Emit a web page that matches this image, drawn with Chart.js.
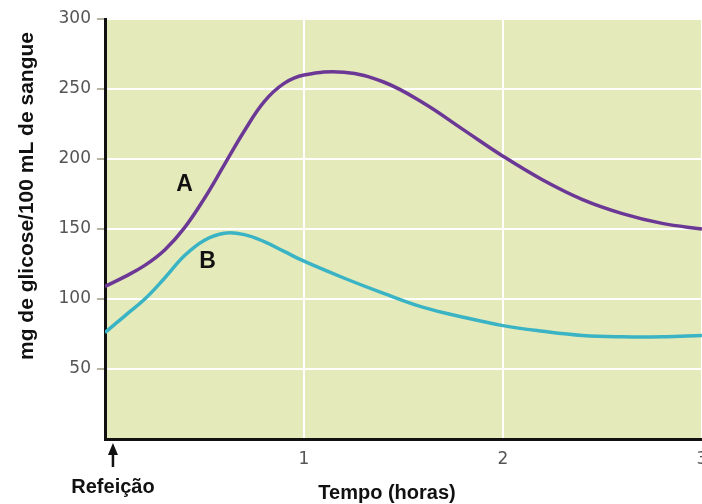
<!DOCTYPE html>
<html>
<head>
<meta charset="utf-8">
<script src="https://cdn.jsdelivr.net/npm/chart.js@4.4.1/dist/chart.umd.min.js"></script>
<style>
  html, body { margin: 0; padding: 0; background: #ffffff; overflow: hidden; }
  #wrap { width: 702px; height: 504px; position: relative; }
</style>
</head>
<body>
<div id="wrap"><canvas id="c" width="702" height="504"></canvas></div>
<script>
// Time after the meal (hours)
const hours = [0, 0.1, 0.2, 0.3, 0.4, 0.5, 0.6, 0.7, 0.8, 0.9, 1.0, 1.2, 1.4, 1.6, 1.8, 2.0, 2.2, 2.4, 2.6, 2.8, 3.0];
// Curve A (mg glucose / 100 mL blood)
const curveA = [109, 116, 124, 135, 151, 172, 196, 220, 241, 254, 260, 262, 255, 240, 221, 202, 185, 171, 161, 154, 150];
// Curve B
const curveB = [76, 88, 100, 115, 131, 142, 147, 146, 141, 134, 127, 115, 104, 94, 87, 81, 77, 74, 73, 73, 74];
const xTickLabels = ['1', '2', '3'];
const yTitle = 'mg de glicose/100 mL de sangue';
const xTitle = 'Tempo (horas)';
const mealLabel = 'Refeição';
const seriesNames = ['A', 'B'];

const toPts = (ys) => hours.map((h, i) => ({ x: h, y: ys[i] }));

const decor = {
  id: 'decor',
  beforeDraw(chart) {
    const { ctx, chartArea: a } = chart;
    ctx.save();
    ctx.fillStyle = 'rgb(229,234,187)';
    ctx.fillRect(a.left, a.top, 702 - a.left, a.bottom - a.top);
    ctx.restore();
  },
  afterDraw(chart) {
    const { ctx } = chart;
    const xs = chart.scales.x, ys = chart.scales.y;
    ctx.save();
    // y title
    ctx.save();
    ctx.translate(27, 196);
    ctx.rotate(-Math.PI / 2);
    ctx.font = 'bold 21px "Liberation Sans", Arial, sans-serif';
    ctx.fillStyle = '#111';
    ctx.textAlign = 'center';
    ctx.textBaseline = 'middle';
    ctx.fillText(yTitle, 0, 0);
    ctx.restore();
    // x tick labels
    ctx.font = '17px "DejaVu Sans", sans-serif';
    ctx.fillStyle = '#555';
    ctx.textAlign = 'center';
    ctx.textBaseline = 'middle';
    xTickLabels.forEach((t) => {
      ctx.fillText(t, xs.getPixelForValue(Number(t)), 460);
    });
    // meal arrow
    const ax = xs.getPixelForValue(0.04);
    ctx.strokeStyle = '#111';
    ctx.fillStyle = '#111';
    ctx.lineWidth = 2.5;
    ctx.beginPath();
    ctx.moveTo(ax, 467);
    ctx.lineTo(ax, 452);
    ctx.stroke();
    ctx.beginPath();
    ctx.moveTo(ax, 443);
    ctx.lineTo(ax - 5, 455);
    ctx.lineTo(ax + 5, 455);
    ctx.closePath();
    ctx.fill();
    // labels
    ctx.font = 'bold 20px "Liberation Sans", Arial, sans-serif';
    ctx.fillStyle = '#111';
    ctx.fillText(mealLabel, ax, 487);
    ctx.fillText(xTitle, 387, 493);
    // series letters
    ctx.font = 'bold 23px "Liberation Sans", Arial, sans-serif';
    ctx.fillText(seriesNames[0], xs.getPixelForValue(0.40), ys.getPixelForValue(182));
    ctx.fillText(seriesNames[1], xs.getPixelForValue(0.515), ys.getPixelForValue(127));
    ctx.restore();
  }
};

new Chart(document.getElementById('c'), {
  type: 'line',
  data: {
    datasets: [
      { label: seriesNames[0], data: toPts(curveA), borderColor: 'rgb(108,56,150)', borderWidth: 3.5,
        pointRadius: 0, tension: 0.4, fill: false },
      { label: seriesNames[1], data: toPts(curveB), borderColor: 'rgb(58,180,196)', borderWidth: 3.5,
        pointRadius: 0, tension: 0.4, fill: false }
    ]
  },
  options: {
    responsive: false,
    animation: false,
    events: [],
    layout: { padding: { top: 19, right: 0, left: 0, bottom: 0 } },
    plugins: { legend: { display: false }, tooltip: { enabled: false } },
    scales: {
      x: {
        type: 'linear', min: 0, max: 3,
        ticks: { display: false, stepSize: 1 },
        grid: { color: '#ffffff', lineWidth: 2, drawTicks: false },
        border: { color: '#111', width: 3 },
        afterFit: (s) => { s.height = 65; }
      },
      y: {
        min: 0, max: 300,
        ticks: { stepSize: 50, color: '#555', padding: 6,
          font: { family: '"DejaVu Sans", sans-serif', size: 17 },
          callback: (v) => (v === 0 ? '' : String(v)) },
        grid: { color: '#ffffff', lineWidth: 2, tickLength: 8,
          tickColor: (c) => (c.tick && c.tick.value === 0 ? 'rgba(0,0,0,0)' : '#b5b5a0') },
        border: { color: '#111', width: 3 },
        afterFit: (s) => { s.width = 105; }
      }
    }
  },
  plugins: [decor]
});
</script>
</body>
</html>
